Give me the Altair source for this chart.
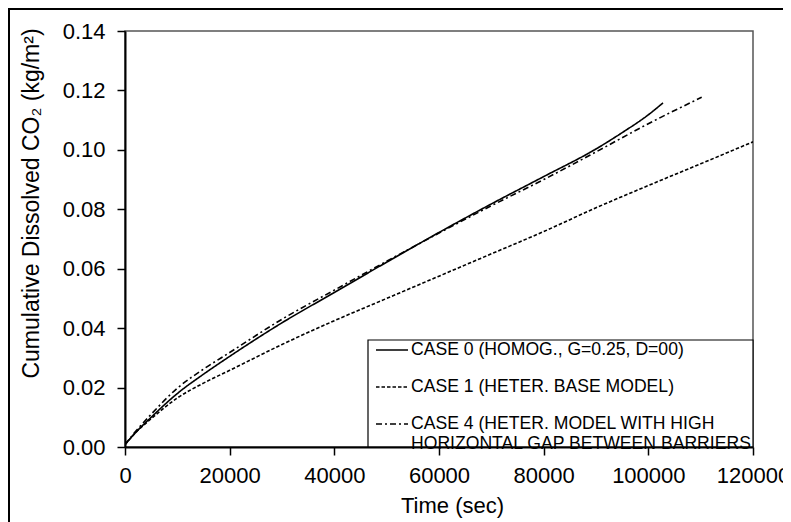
import altair as alt
import pandas as pd

case_names = [
    "CASE 0 (HOMOG., G=0.25, D=00)",
    "CASE 1 (HETER. BASE MODEL)",
    "CASE 4 (HETER. MODEL WITH HIGH\nHORIZONTAL GAP BETWEEN BARRIERS",
]

time_case0 = [0, 2000, 5000, 10000, 15000, 20000, 30000, 40000, 50000, 60000,
              70000, 80000, 90000, 95000, 100000, 102800]
co2_case0 = [0.0008, 0.0048, 0.0100, 0.0180, 0.0245, 0.0305, 0.0418, 0.0520, 0.0622,
             0.0722, 0.0818, 0.0910, 0.1003, 0.1058, 0.1118, 0.1158]

time_case1 = [0, 2000, 5000, 10000, 15000, 20000, 30000, 40000, 50000, 60000,
              70000, 80000, 90000, 100000, 110000, 120000]
co2_case1 = [0.0008, 0.0048, 0.0095, 0.0165, 0.0215, 0.0258, 0.0345, 0.0425, 0.0500,
             0.0575, 0.0650, 0.0725, 0.0805, 0.0880, 0.0953, 0.1027]

time_case4 = [0, 2000, 5000, 10000, 15000, 20000, 30000, 40000, 50000, 60000,
              70000, 80000, 90000, 100000, 110200]
co2_case4 = [0.0008, 0.0052, 0.0110, 0.0198, 0.0262, 0.0318, 0.0430, 0.0528, 0.0625,
             0.0720, 0.0812, 0.0900, 0.0993, 0.1088, 0.1177]

x_ticks = [0, 20000, 40000, 60000, 80000, 100000, 120000]
y_ticks = [0.00, 0.02, 0.04, 0.06, 0.08, 0.10, 0.12, 0.14]

rows = []
for name, ts, vs in zip(case_names,
                        [time_case0, time_case1, time_case4],
                        [co2_case0, co2_case1, co2_case4]):
    for t, v in zip(ts, vs):
        rows.append({"case": name, "time": t, "co2": v})
df = pd.DataFrame(rows)

FONT = "Liberation Sans"

lines = alt.Chart(df).mark_line(color="black", strokeWidth=1.6, clip=True,
                                interpolate="monotone").encode(
    x=alt.X("time:Q",
            scale=alt.Scale(domain=[0, 120000], nice=False, zero=True),
            axis=alt.Axis(values=x_ticks, format="d", title="Time (sec)",
                          grid=False, labelFlush=False, labelOverlap=False,
                          labelFontSize=22, labelFont=FONT, labelColor="black",
                          labelPadding=10, tickSize=8, tickWidth=1.5, tickColor="black",
                          domainColor="black", domainWidth=2, zindex=1,
                          titleFont=FONT, titleFontSize=22, titleFontWeight="normal",
                          titleColor="black", titleX=327, titleY=65,
                          titleAlign="center", titleBaseline="alphabetic")),
    y=alt.Y("co2:Q",
            scale=alt.Scale(domain=[0, 0.14], nice=False, zero=True),
            axis=alt.Axis(values=y_ticks, format=".2f",
                          title="Cumulative Dissolved CO₂ (kg/m²)",
                          grid=False, labelFlush=False, labelOverlap=False,
                          labelFontSize=22, labelFont=FONT, labelColor="black",
                          labelPadding=12, tickSize=8, tickWidth=1.5, tickColor="black",
                          domainColor="black", domainWidth=2, zindex=1,
                          titleFont=FONT, titleFontSize=23, titleFontWeight="normal",
                          titleColor="black", titleX=-87, titleY=172,
                          titleAngle=270, titleAlign="center",
                          titleBaseline="alphabetic")),
    strokeDash=alt.StrokeDash(
        "case:N",
        scale=alt.Scale(domain=case_names, range=[[1, 0], [3.5, 2], [6, 3, 2, 3]]),
        legend=alt.Legend(title=None, orient="none", legendX=250, legendY=302,
                          direction="vertical", symbolType="stroke", symbolSize=1024,
                          symbolStrokeWidth=1.6, symbolStrokeColor="black",
                          labelFont=FONT, labelFontSize=17.6, labelColor="black",
                          labelLimit=0, labelOffset=2, rowPadding=11, padding=0,
                          labelExpr="split(datum.label, '\\n')"),
    ),
)

legend_box = alt.Chart(pd.DataFrame({"k": [0]})).mark_rect(
    fill="white", stroke="black", strokeWidth=1.2
).encode(
    x=alt.value(243), x2=alt.value(628), y=alt.value(309), y2=alt.value(416)
)

frame_top = alt.Chart(pd.DataFrame({"k": [0]})).mark_rule(
    stroke="black", strokeWidth=2
).encode(x=alt.value(-117), x2=alt.value(658), y=alt.value(-22))

frame_left = alt.Chart(pd.DataFrame({"k": [0]})).mark_rule(
    stroke="black", strokeWidth=2
).encode(x=alt.value(-116), y=alt.value(-23), y2=alt.value(495))

chart = alt.layer(lines, legend_box, frame_top, frame_left).properties(
    width=628, height=416,
    autosize=alt.AutoSizeParams(type="none"),
    padding={"left": 117, "top": 23, "right": 30, "bottom": 75},
    background="transparent",
).configure_view(stroke="#555555", strokeWidth=1.5)

chart.save("out.html", embed_options={"renderer": "svg", "actions": False})
